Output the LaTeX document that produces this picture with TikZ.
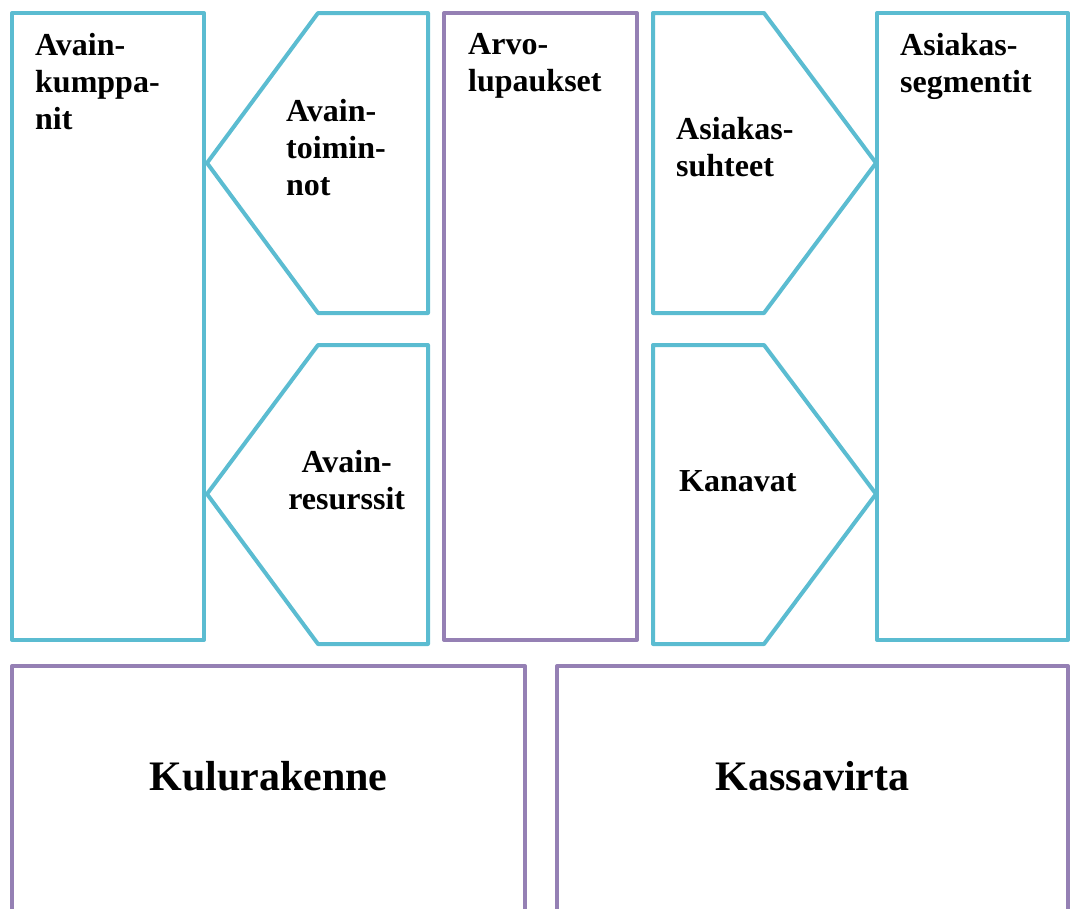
\documentclass[tikz,border=0pt]{standalone}
\usepackage{fontspec}
\setmainfont{Liberation Serif}
\definecolor{cy}{HTML}{5BBCD1}
\definecolor{pu}{HTML}{9580B4}
\newcommand{\Lft}[1]{\vtop{\baselineskip=37pt #1}}
\newcommand{\Ln}[1]{\hbox{#1}}
\newcommand{\Cn}[1]{\hbox to 0pt{\hss #1\hss}}
\begin{document}
\begin{tikzpicture}[x=1pt,y=-1pt,
  box/.style={line width=4pt, line join=round},
  cyanbox/.style={box, draw=cy},
  purplebox/.style={box, draw=pu},
  lbl/.style={anchor=base west, inner sep=0pt, font=\fontsize{32}{37}\selectfont\bfseries},
  big/.style={anchor=base, inner sep=0pt, font=\fontsize{42}{48}\selectfont\bfseries}]
\useasboundingbox (0,0) rectangle (1071,908);
\clip (0,0) rectangle (1071,908);
% top row
\draw[cyanbox] (12,13) rectangle (204,640);
\draw[cyanbox] (318,13) -- (428,13) -- (428,313) -- (318,313) -- (207,163) -- cycle;
\draw[cyanbox] (318,345) -- (428,345) -- (428,644) -- (318,644) -- (207,494) -- cycle;
\draw[purplebox] (444,13) rectangle (637,640);
\draw[cyanbox] (653,13) -- (764,13) -- (876,163) -- (764,313) -- (653,313) -- cycle;
\draw[cyanbox] (653,345) -- (764,345) -- (876,494) -- (764,644) -- (653,644) -- cycle;
\draw[cyanbox] (877,13) rectangle (1068,640);
% bottom row
\draw[purplebox] (12,666) rectangle (525,940);
\draw[purplebox] (557,666) rectangle (1068,940);
% labels
\node[lbl] (kp) at (35,55) {\Lft{\Ln{Avain-}\Ln{kumppa-}\Ln{nit}}};
\node[lbl] (kt) at (286,121) {\Lft{\Ln{Avain-}\Ln{toimin-}\Ln{not}}};
\node[lbl] (kr) at (346,472) {\Lft{\Cn{Avain-}\Cn{resurssit}}};
\node[lbl] (al) at (468,54) {\Lft{\Ln{Arvo-}\Ln{lupaukset}}};
\node[lbl] (as) at (676,139) {\Lft{\Ln{Asiakas-}\Ln{suhteet}}};
\node[lbl] (ka) at (679,491) {\Lft{\Ln{Kanavat}}};
\node[lbl] (sg) at (900,55) {\Lft{\Ln{Asiakas-}\Ln{segmentit}}};
\node[big] (ku) at (268.5,790) {Kulurakenne};
\node[big] (kv) at (812.5,790) {Kassavirta};
\end{tikzpicture}
\end{document}
